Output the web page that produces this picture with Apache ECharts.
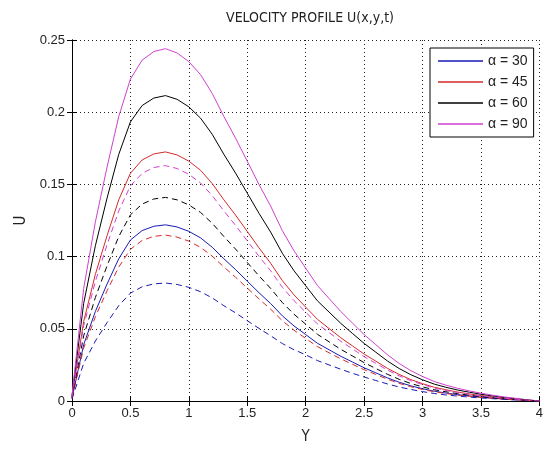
<!DOCTYPE html>
<html>
<head>
<meta charset="utf-8">
<script src="https://cdn.jsdelivr.net/npm/echarts@6/dist/echarts.min.js"></script>
<style>
html,body{margin:0;padding:0;background:#fff;}
#chart{width:546px;height:450px;}
</style>
</head>
<body>
<div id="chart"></div>
<script>
// x positions (Y)
const yPos = [0,0.1,0.2,0.3,0.4,0.5,0.6,0.7,0.8,0.9,1.0,1.1,1.2,1.3,1.4,1.5,1.6,1.7,1.8,1.9,2.0,2.1,2.2,2.3,2.4,2.5,2.6,2.7,2.8,2.9,3.0,3.1,3.2,3.3,3.4,3.5,3.6,3.7,3.8,3.9,4.0];

// solid curves
const solid30 = [0.002,0.039,0.062,0.081,0.0985,0.1115,0.118,0.121,0.122,0.1205,0.1175,0.113,0.1065,0.0985,0.091,0.083,0.075,0.0675,0.059,0.052,0.046,0.040,0.0355,0.031,0.027,0.023,0.0195,0.016,0.013,0.0105,0.0085,0.0068,0.0055,0.0044,0.0035,0.0027,0.002,0.0014,0.0009,0.0004,0];
const solid45 = [0.003,0.0551,0.0877,0.1145,0.1393,0.1577,0.1669,0.1711,0.1725,0.1704,0.1661,0.1598,0.1506,0.1393,0.1287,0.1174,0.1061,0.0954,0.0834,0.0735,0.0650,0.0566,0.0502,0.0438,0.0382,0.0325,0.0276,0.0226,0.0184,0.0148,0.0120,0.0095,0.0078,0.0062,0.0049,0.0038,0.0028,0.0020,0.0013,0.0006,0];
const solid60 = [0.0035,0.0676,0.1075,0.1405,0.1708,0.1933,0.2046,0.2098,0.2115,0.2089,0.2037,0.1959,0.1847,0.1708,0.1578,0.1439,0.1300,0.1170,0.1023,0.0902,0.0798,0.0694,0.0616,0.0538,0.0468,0.0399,0.0338,0.0277,0.0225,0.0182,0.0147,0.0117,0.0095,0.0076,0.0061,0.0047,0.0035,0.0024,0.0016,0.0007,0];
const solid90 = [0.004,0.078,0.124,0.162,0.197,0.223,0.236,0.242,0.244,0.241,0.235,0.226,0.213,0.197,0.182,0.166,0.150,0.135,0.118,0.104,0.092,0.080,0.071,0.062,0.054,0.046,0.039,0.032,0.026,0.021,0.017,0.0135,0.011,0.0088,0.007,0.0054,0.004,0.0028,0.0018,0.0008,0];

// dashed curves
const dashed30 = [0.0013,0.0261,0.0415,0.0543,0.066,0.0747,0.0791,0.0811,0.0817,0.0807,0.0787,0.0757,0.0714,0.066,0.061,0.0556,0.0503,0.0452,0.0398,0.0355,0.032,0.028,0.025,0.022,0.0192,0.0166,0.0142,0.0118,0.0097,0.008,0.0065,0.0052,0.0042,0.0034,0.0027,0.0021,0.0016,0.0011,0.0007,0.0003,0];
const dashed45 = [0.0019,0.0367,0.0584,0.0763,0.0928,0.105,0.1112,0.114,0.1149,0.1135,0.1107,0.1064,0.1003,0.0928,0.0857,0.0782,0.0707,0.0636,0.0556,0.049,0.0433,0.0377,0.0334,0.0292,0.0254,0.0217,0.0184,0.0151,0.0122,0.0099,0.008,0.0064,0.0052,0.0041,0.0033,0.0025,0.0019,0.0013,0.0008,0.0004,0];
const dashed60 = [0.0023,0.0451,0.0717,0.0936,0.1139,0.1289,0.1364,0.1399,0.141,0.1393,0.1358,0.1306,0.1231,0.1139,0.1052,0.0959,0.0867,0.078,0.0682,0.0601,0.0532,0.0462,0.041,0.0358,0.0312,0.0266,0.0225,0.0185,0.015,0.0121,0.0098,0.0078,0.0064,0.0051,0.004,0.0031,0.0023,0.0016,0.001,0.0005,0];
const dashed90 = [0.0027,0.0521,0.0828,0.1082,0.1316,0.149,0.1576,0.1617,0.163,0.161,0.157,0.151,0.1423,0.1316,0.1216,0.1109,0.1002,0.0902,0.0788,0.0695,0.0615,0.0534,0.0474,0.0414,0.0361,0.0307,0.0261,0.0214,0.0174,0.014,0.0114,0.009,0.0073,0.0059,0.0047,0.0036,0.0027,0.0019,0.0012,0.0005,0];

const legendNames = ['α = 30','α = 45','α = 60','α = 90'];
const colors = ['#1a1ab4','#d42a2a','#000000','#d040d0'];

function pts(arr){ return yPos.map((x,i)=>[x, arr[i]]); }

const solids = [solid30, solid45, solid60, solid90];
const dashes = [dashed30, dashed45, dashed60, dashed90];

const series = [];
solids.forEach((s,i)=>{
  series.push({name: legendNames[i], type:'line', data: pts(s), symbol:'none', showSymbol:false, smooth:false,
    lineStyle:{color: colors[i], width:1}, itemStyle:{color: colors[i]}, z: 3});
});
dashes.forEach((s,i)=>{
  series.push({name: 'd'+i, type:'line', data: pts(s), symbol:'none', showSymbol:false, smooth:false,
    lineStyle:{color: colors[i], width:1, type:[6,4]}, itemStyle:{color: colors[i]}, z: 3});
});

const labelFont = {fontFamily:'"Liberation Sans", Arial, sans-serif', fontSize:13, color:'#222'};
const narrow = '"Liberation Sans Narrow", "DejaVu Sans Condensed", "Liberation Sans", sans-serif';

const chart = echarts.init(document.getElementById('chart'), null, {renderer:'canvas'});
chart.setOption({
  animation:false,
  backgroundColor:'#ffffff',
  title:{text:'VELOCITY PROFILE U(x,y,t)', left:305, top:6, textAlign:'center',
    textStyle:{fontFamily:narrow, fontSize:14, fontWeight:'normal', color:'#222'}},
  grid:{left:72, right:4, top:40, bottom:42},
  legend:{data:legendNames, orient:'vertical', left:430, top:48, icon:'rect',
    backgroundColor:'#fff', borderColor:'#000', borderWidth:1, padding:[6,6,6,8],
    itemWidth:45, itemHeight:1.5, itemGap:7,
    textStyle:{fontFamily:'"Liberation Sans", Arial, sans-serif', fontSize:14, lineHeight:14, color:'#222'}},
  xAxis:[{type:'value', min:0, max:4, interval:0.5, position:'bottom',
    name:'Y', nameLocation:'middle', nameGap:29,
    nameTextStyle:{fontFamily:narrow, fontSize:15, color:'#222'},
    axisLine:{show:true, lineStyle:{color:'#000', width:1}},
    axisTick:{show:true, inside:true, length:5, lineStyle:{color:'#000'}},
    axisLabel:Object.assign({margin:6}, labelFont),
    splitLine:{show:true, lineStyle:{color:'#222', width:1, type:[1,3]}}},
   {type:'value', min:0, max:4, interval:0.5, position:'top',
    axisLine:{show:true, lineStyle:{color:'#000', width:1}},
    axisTick:{show:true, inside:true, length:5, lineStyle:{color:'#000'}},
    axisLabel:{show:false}, splitLine:{show:false}}],
  yAxis:[{type:'value', min:0, max:0.25, interval:0.05, position:'left',
    name:'U', nameLocation:'middle', nameGap:37,
    nameTextStyle:{fontFamily:narrow, fontSize:15, color:'#222'},
    axisLine:{show:true, lineStyle:{color:'#000', width:1}},
    axisTick:{show:true, inside:true, length:5, lineStyle:{color:'#000'}},
    axisLabel:Object.assign({margin:7}, labelFont),
    splitLine:{show:true, lineStyle:{color:'#222', width:1, type:[1,3]}}},
   {type:'value', min:0, max:0.25, interval:0.05, position:'right',
    axisLine:{show:true, lineStyle:{color:'#000', width:1}},
    axisTick:{show:true, inside:true, length:5, lineStyle:{color:'#000'}},
    axisLabel:{show:false}, splitLine:{show:false}}],
  series: series
});
</script>
</body>
</html>
